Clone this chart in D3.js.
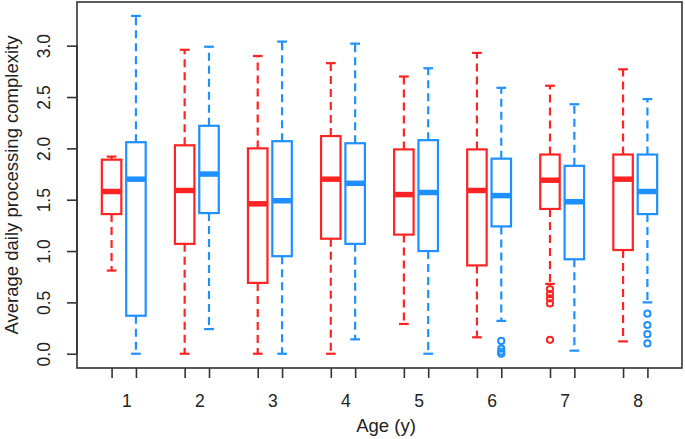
<!DOCTYPE html>
<html>
<head>
<meta charset="utf-8">
<script src="https://cdn.jsdelivr.net/npm/d3@7"></script>
<style>
  html, body { margin: 0; padding: 0; background: #fff; }
  svg { display: block; font-family: "Liberation Sans", Arial, sans-serif; }
</style>
</head>
<body>
<svg id="chart" width="685" height="439"></svg>
<script>
// ---- Data ----
const ages = ["1", "2", "3", "4", "5", "6", "7", "8"];
const yTicks = [0.0, 0.5, 1.0, 1.5, 2.0, 2.5, 3.0];

// red series
const redLow    = [0.81, 0.00, 0.00, 0.00, 0.29, 0.16, 0.68, 0.12];
const redQ1     = [1.36, 1.07, 0.69, 1.12, 1.16, 0.86, 1.41, 1.01];
const redMedian = [1.58, 1.59, 1.46, 1.70, 1.55, 1.59, 1.69, 1.70];
const redQ3     = [1.89, 2.03, 2.00, 2.12, 1.99, 1.99, 1.94, 1.94];
const redHigh   = [1.92, 2.96, 2.90, 2.83, 2.70, 2.93, 2.61, 2.77];
const redOut    = [[], [], [], [], [], [], [0.63, 0.58, 0.54, 0.49, 0.135], []];

// blue series
const blueLow    = [0.00, 0.24, 0.00, 0.14, 0.00, 0.32, 0.03, 0.50];
const blueQ1     = [0.37, 1.37, 0.95, 1.07, 1.00, 1.24, 0.92, 1.36];
const blueMedian = [1.70, 1.75, 1.49, 1.66, 1.57, 1.54, 1.48, 1.58];
const blueQ3     = [2.06, 2.22, 2.07, 2.05, 2.08, 1.90, 1.83, 1.94];
const blueHigh   = [3.29, 2.99, 3.04, 3.02, 2.78, 2.59, 2.43, 2.48];
const blueOut    = [[], [], [], [], [], [0.125, 0.05, 0.02, 0.0], [], [0.39, 0.28, 0.19, 0.10]];

const RED = "#ff2424";
const BLUE = "#1e90ff";
const AXIS = "#333";

// build box records: red at position 3i-2, blue at 3i-1 (i = 1..8)
const boxes = [];
ages.forEach((a, i) => {
  boxes.push({pos: 3 * i + 1, color: RED, low: redLow[i], q1: redQ1[i], med: redMedian[i], q3: redQ3[i], high: redHigh[i], out: redOut[i]});
  boxes.push({pos: 3 * i + 2, color: BLUE, low: blueLow[i], q1: blueQ1[i], med: blueMedian[i], q3: blueQ3[i], high: blueHigh[i], out: blueOut[i]});
});

const svg = d3.select("#chart");
const plot = {left: 77, right: 682, top: 2, bottom: 368};

const x = d3.scaleLinear().domain([-0.42, 24.42]).range([plot.left, plot.right]);
const y = d3.scaleLinear().domain([-0.139, 3.4256]).range([plot.bottom, plot.top]);

const boxW = x(0.8) - x(0);
const capW = boxW * 0.5;

const g = svg.append("g");

const b = g.selectAll("g.box").data(boxes).join("g").attr("class", "box");

// whiskers (dashed)
b.append("line")
  .attr("x1", d => x(d.pos)).attr("x2", d => x(d.pos))
  .attr("y1", d => y(d.q3)).attr("y2", d => y(d.high))
  .attr("stroke", d => d.color).attr("stroke-width", 2.2).attr("stroke-dasharray", "8,5");
b.append("line")
  .attr("x1", d => x(d.pos)).attr("x2", d => x(d.pos))
  .attr("y1", d => y(d.q1)).attr("y2", d => y(d.low))
  .attr("stroke", d => d.color).attr("stroke-width", 2.2).attr("stroke-dasharray", "8,5");
// staples
b.append("line")
  .attr("x1", d => x(d.pos) - capW / 2).attr("x2", d => x(d.pos) + capW / 2)
  .attr("y1", d => y(d.high)).attr("y2", d => y(d.high))
  .attr("stroke", d => d.color).attr("stroke-width", 2.2);
b.append("line")
  .attr("x1", d => x(d.pos) - capW / 2).attr("x2", d => x(d.pos) + capW / 2)
  .attr("y1", d => y(d.low)).attr("y2", d => y(d.low))
  .attr("stroke", d => d.color).attr("stroke-width", 2.2);
// box
b.append("rect")
  .attr("x", d => x(d.pos) - boxW / 2).attr("width", boxW)
  .attr("y", d => y(d.q3)).attr("height", d => y(d.q1) - y(d.q3))
  .attr("fill", "white").attr("stroke", d => d.color).attr("stroke-width", 2.2);
// median
b.append("line")
  .attr("x1", d => x(d.pos) - boxW / 2).attr("x2", d => x(d.pos) + boxW / 2)
  .attr("y1", d => y(d.med)).attr("y2", d => y(d.med))
  .attr("stroke", d => d.color).attr("stroke-width", 5.5);
// outliers
b.selectAll("circle").data(d => d.out.map(v => ({v, pos: d.pos, color: d.color}))).join("circle")
  .attr("cx", d => x(d.pos)).attr("cy", d => y(d.v)).attr("r", 3.1)
  .attr("fill", "none").attr("stroke", d => d.color).attr("stroke-width", 2);

// frame
svg.append("rect")
  .attr("x", plot.left).attr("y", plot.top)
  .attr("width", plot.right - plot.left).attr("height", plot.bottom - plot.top)
  .attr("fill", "none").attr("stroke", AXIS).attr("stroke-width", 1.6);

// y axis
const yAxis = d3.axisLeft(y).tickValues(yTicks).tickFormat(d3.format(".1f")).tickSize(10).tickPadding(0);
const ya = svg.append("g").attr("transform", `translate(${plot.left},0)`).call(yAxis);
ya.select(".domain").attr("d", `M0,${y(0)}V${y(3)}`).attr("stroke", AXIS).attr("stroke-width", 1.6);
ya.selectAll(".tick line").attr("stroke", AXIS).attr("stroke-width", 1.6);
ya.selectAll(".tick text")
  .attr("x", 0).attr("dy", null).attr("y", 0)
  .attr("transform", "translate(-27,0) rotate(-90)")
  .attr("text-anchor", "middle")
  .attr("fill", "#222").style("font-size", "17.5px");

// x axis: one tick per box, labels at group centers
const xTickPos = boxes.map(d => d.pos);
const xAxis = d3.axisBottom(x).tickValues(xTickPos).tickFormat("").tickSize(10);
const xa = svg.append("g").attr("transform", `translate(0,${plot.bottom})`).call(xAxis);
xa.select(".domain").remove();
xa.selectAll(".tick line").attr("stroke", AXIS).attr("stroke-width", 1.6);

svg.append("g").selectAll("text").data(ages).join("text")
  .attr("x", (d, i) => x(3 * i + 1.5) + 3)
  .attr("y", 407)
  .attr("text-anchor", "middle")
  .attr("fill", "#222").style("font-size", "17.5px")
  .text(d => d);

// axis titles
svg.append("text")
  .attr("x", 386).attr("y", 432)
  .attr("text-anchor", "middle").attr("fill", "#222").style("font-size", "18.5px")
  .text("Age (y)");
svg.append("text")
  .attr("transform", `translate(18,${(plot.top + plot.bottom) / 2}) rotate(-90)`)
  .attr("text-anchor", "middle").attr("fill", "#222").style("font-size", "18.5px")
  .text("Average daily processing complexity");
</script>
</body>
</html>
